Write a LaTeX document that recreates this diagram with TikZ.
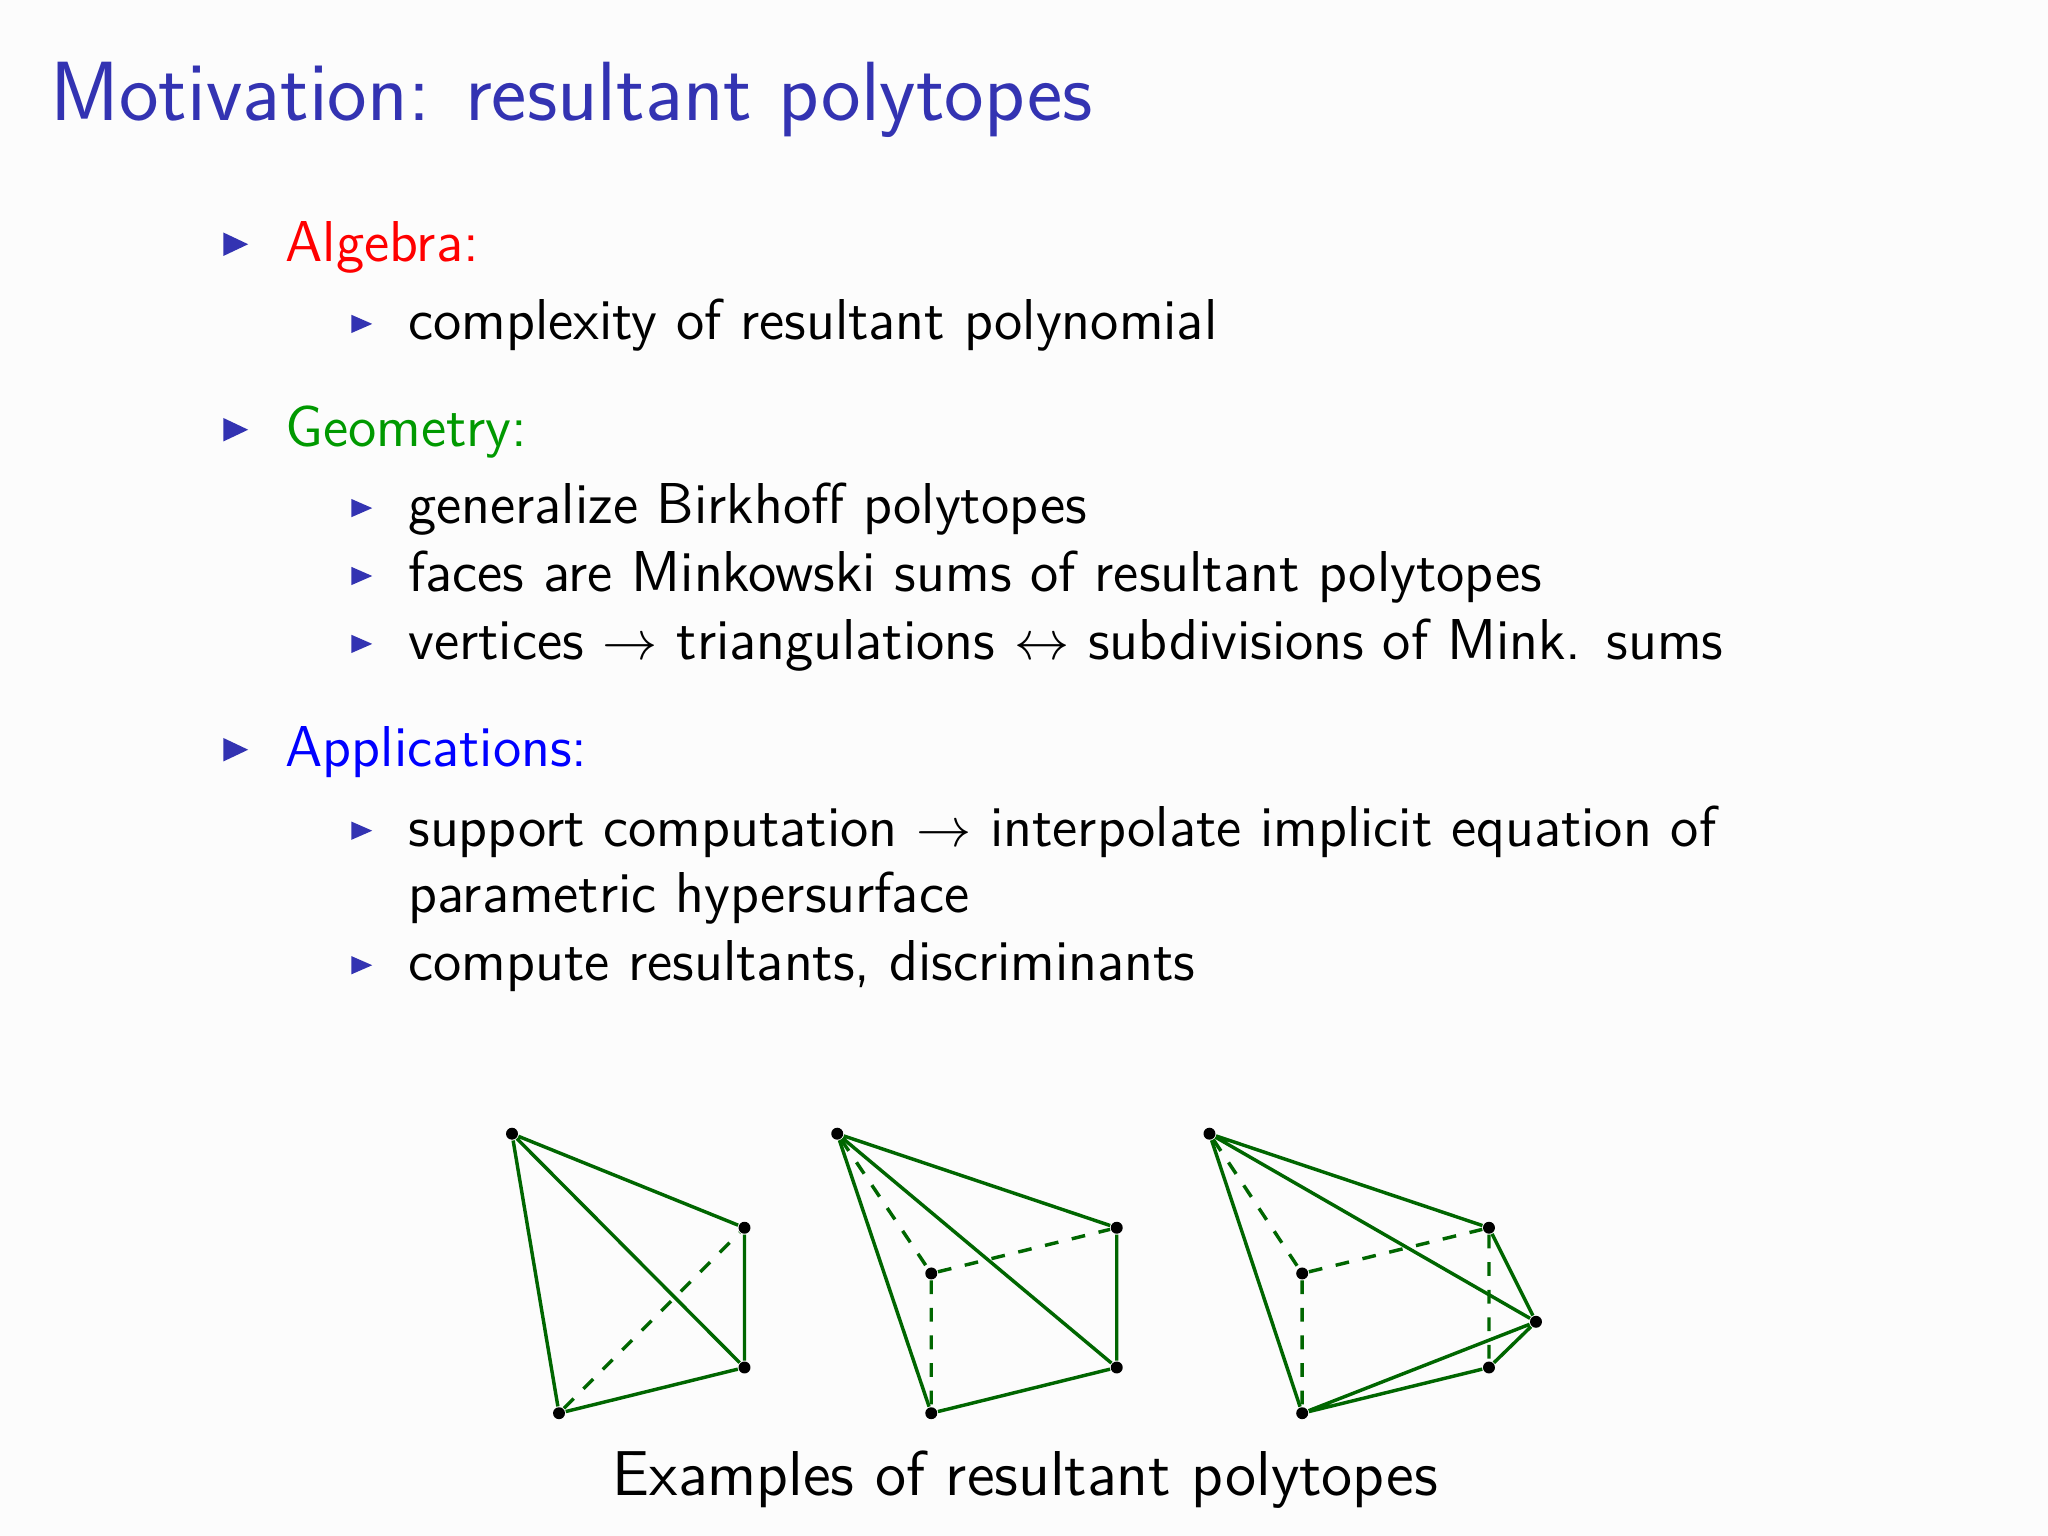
\documentclass[tikz,border=0pt]{standalone}
\usepackage{amssymb}
\begin{document}
\begin{tikzpicture}[x=0.01cm,y=-0.01cm,
  txt/.style={anchor=base west,inner sep=0pt,font=\sffamily\fontsize{12.55}{14}\selectfont},
  bul/.style={fill=bcol,draw=none},
  pe/.style={draw=pg,line width=0.75pt},
  pd/.style={draw=pg,line width=0.75pt,dashed},
  vx/.style={circle,fill=black,inner sep=0pt,minimum size=2.6pt}]
\definecolor{bcol}{rgb}{0.2,0.2,0.7}
\definecolor{pg}{rgb}{0,0.4,0}
\definecolor{gg}{rgb}{0,0.6,0}
\fill[white!99!black] (0,0) rectangle (1568,1176);
\node[txt,font=\sffamily\fontsize{18.3}{20}\selectfont,text=bcol] (title) at (38,92) {Motivation: resultant polytopes};
% bullets
\foreach \n/\y in {1/200,2/342,3/587}{
  \fill[bul] (171,\y-22) -- (190,\y-13) -- (171,\y-4) -- cycle;}
\foreach \y in {260,401,453,505,648,751}{
  \fill[bul] (269,\y-19) -- (285,\y-12) -- (269,\y-5) -- cycle;}
\node[txt,text=red] (alg) at (218,200) {Algebra:};
\node[txt] (a1) at (312,260) {complexity of resultant polynomial};
\node[txt,text=gg] (geo) at (218,342) {Geometry:};
\node[txt] (g1) at (312,401) {generalize Birkhoff polytopes};
\node[txt] (g2) at (312,453) {faces are Minkowski sums of resultant polytopes};
\node[txt] (g3) at (312,505) {vertices $\rightarrow$ triangulations $\leftrightarrow$ subdivisions of Mink. sums};
\node[txt,text=blue] (app) at (218,587) {Applications:};
\node[txt] (p1) at (312,648) {support computation $\rightarrow$ interpolate implicit equation of};
\node[txt] (p1b) at (312,699) {parametric hypersurface};
\node[txt] (p2) at (312,751) {compute resultants, discriminants};
\node[txt,anchor=base,font=\sffamily\fontsize{13.8}{16}\selectfont] (cap) at (785,1145) {Examples of resultant polytopes};
% polytope 1
\node[vx] (a) at (392,868) {}; \node[vx] (b) at (570,940) {};
\node[vx] (c) at (570,1047) {}; \node[vx] (d) at (428,1082) {};
\draw[pe] (a)--(b) (a)--(c) (a)--(d) (b)--(c) (c)--(d);
\draw[pd] (d)--(b);
% polytope 2
\node[vx] (a2) at (641,868) {}; \node[vx] (b2) at (855,940) {};
\node[vx] (c2) at (855,1047) {}; \node[vx] (d2) at (713,1082) {};
\node[vx] (e2) at (713,975) {};
\draw[pe] (a2)--(b2) (a2)--(c2) (a2)--(d2) (b2)--(c2) (c2)--(d2);
\draw[pd] (a2)--(e2) (e2)--(b2) (e2)--(d2);
% polytope 3
\node[vx] (a3) at (926,868) {}; \node[vx] (b3) at (1140,940) {};
\node[vx] (f3) at (1176,1012) {}; \node[vx] (c3) at (1140,1047) {};
\node[vx] (d3) at (997,1082) {}; \node[vx] (e3) at (997,975) {};
\draw[pe] (a3)--(b3) (a3)--(f3) (a3)--(d3) (b3)--(f3) (f3)--(c3) (c3)--(d3) (d3)--(f3);
\draw[pd] (a3)--(e3) (e3)--(b3) (e3)--(d3) (b3)--(c3);
\end{tikzpicture}
\end{document}
